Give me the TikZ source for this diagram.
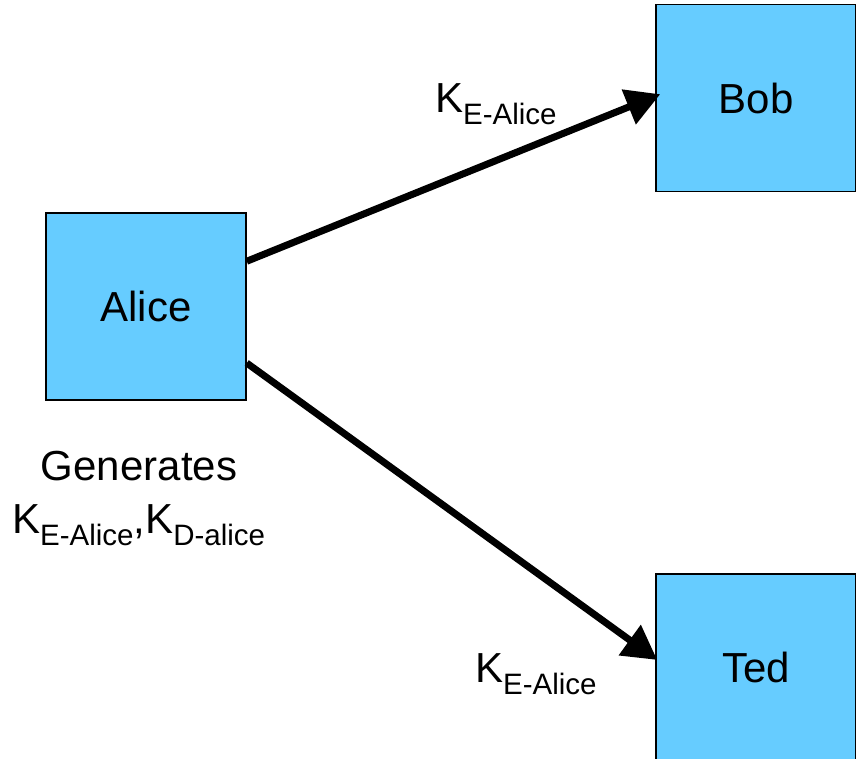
\documentclass[tikz,border=0pt]{standalone}
\usepackage{fontspec}
\setmainfont{Liberation Sans}
\usetikzlibrary{arrows.meta,calc}
\definecolor{boxblue}{HTML}{66CCFF}
% key symbol with lowered subscript
\newcommand\keysym[1]{K\raisebox{-12pt}{\fontsize{29.5}{31}\selectfont #1}}
\begin{document}
\begin{tikzpicture}[x=1pt,y=-1pt,
  party/.style={draw=black,line width=1.5pt,fill=boxblue,minimum width=200pt,
    minimum height=187pt,inner sep=0pt,font=\fontsize{42}{50}\selectfont},
  lbl/.style={inner sep=0pt,font=\fontsize{42}{50}\selectfont},
  send/.style={line width=7pt,-{Triangle[length=34pt,width=36pt]}}]
\useasboundingbox (0,0) rectangle (856,759);
\clip (0,0) rectangle (856,759);
\node[party] (alice) at (146,306.5) {Alice};
\node[party] (bob) at (756,98) {Bob};
\node[party] (ted) at (756,667.5) {Ted};
\draw[send] ($(alice.north east)!0.26!(alice.south east)$) -- ($(bob.north west)!0.48!(bob.south west)+(5,0)$);
\draw[send] ($(alice.north east)!0.80!(alice.south east)$) -- ($(ted.north west)!0.46!(ted.south west)+(2,0)$);
\node[lbl,anchor=base west] (kbob) at (435,113) {\keysym{E-Alice}};
\node[lbl,anchor=base west] (kted) at (475,682) {\keysym{E-Alice}};
\node[lbl,anchor=base] (gen) at (139,480) {Generates};
\node[lbl,anchor=base west] (keys) at (12,533) {\keysym{E-Alice},\keysym{D-alice}};
\end{tikzpicture}
\end{document}
